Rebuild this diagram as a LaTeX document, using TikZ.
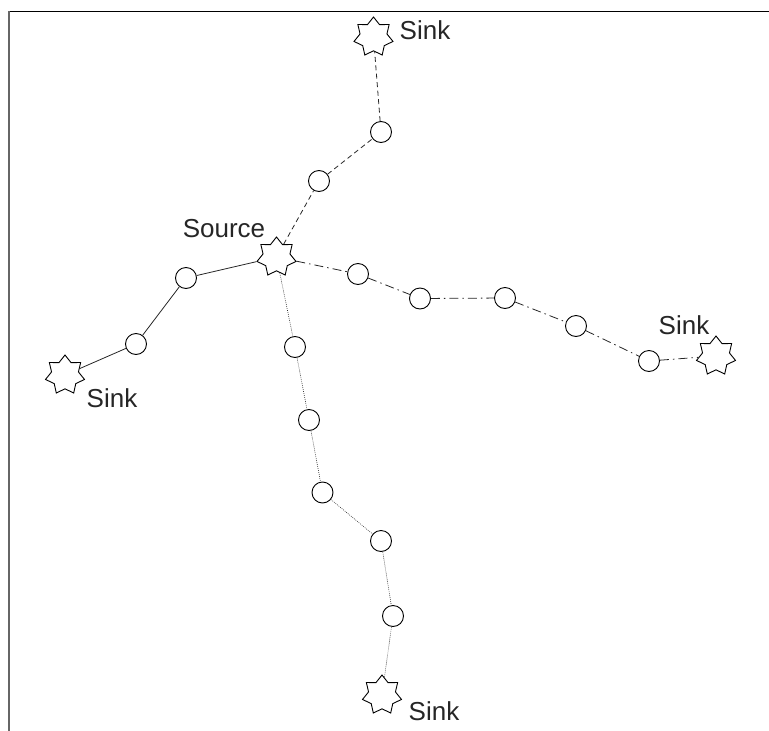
\documentclass[tikz,border=0pt]{standalone}
\usepackage{fontspec}
\setmainfont{Liberation Sans}
\usetikzlibrary{shapes.geometric}
\begin{document}
\begin{tikzpicture}[x=1pt,y=-1pt,
  hop/.style={circle,draw,line width=0.9pt,minimum size=21pt,inner sep=0pt},
  endpt/.style={star,star points=7,star point ratio=1.45,draw,line width=0.9pt,
    minimum size=40pt,inner sep=0pt},
  lbl/.style={font=\fontsize{26}{30}\selectfont,text=black!85,inner sep=0pt},
  link/.style={line width=0.8pt,draw=black!85},
  dashlink/.style={link,dash pattern=on 5pt off 3.5pt},
  dotdashlink/.style={link,dash pattern=on 9pt off 4pt on 1.5pt off 4pt},
  dotlink/.style={link,line width=0.6pt,dash pattern=on 0.8pt off 1.2pt}]
\useasboundingbox (0,0) rectangle (769,731);
% frame
\draw[line width=1.5pt] (8,11.5) -- (769,11.5);
\draw[line width=2pt,draw=black!60] (8.5,11) -- (8.5,731);

% source
\node[endpt] (src) at (276.5,257) {};
\node[lbl] (srclbl) at (224,229) {Source};

% upper branch (dashed)
\node[hop] (u1) at (319,181) {};
\node[hop] (u2) at (381,132) {};
\node[endpt] (su) at (373.5,37) {};
\node[lbl] (sulbl) at (425,30) {Sink};
\draw[dashlink] (src) -- (u1) -- (u2) -- (su);

% left branch (solid)
\node[hop] (l1) at (186,278) {};
\node[hop] (l2) at (136,344) {};
\node[endpt] (sl) at (65,375) {};
\node[lbl] (sllbl) at (112,398) {Sink};
\draw[link] (src) -- (l1) -- (l2) -- (sl);

% right branch (dash-dot)
\node[hop] (r1) at (358,274) {};
\node[hop] (r2) at (420,298.5) {};
\node[hop] (r3) at (505,298) {};
\node[hop] (r4) at (576,326) {};
\node[hop] (r5) at (649,361) {};
\node[endpt] (sr) at (716,356) {};
\node[lbl] (srlbl) at (684,325) {Sink};
\draw[dotdashlink] (src) -- (r1) -- (r2) -- (r3) -- (r4) -- (r5) -- (sr);

% lower branch (dotted)
\node[hop] (d1) at (295,347) {};
\node[hop] (d2) at (309,420) {};
\node[hop] (d3) at (322.5,492.5) {};
\node[hop] (d4) at (381,541) {};
\node[hop] (d5) at (393,616) {};
\node[endpt] (sd) at (382,695) {};
\node[lbl] (sdlbl) at (434,711) {Sink};
\draw[dotlink] (src) -- (d1) -- (d2) -- (d3) -- (d4) -- (d5) -- (sd);
\end{tikzpicture}
\end{document}
